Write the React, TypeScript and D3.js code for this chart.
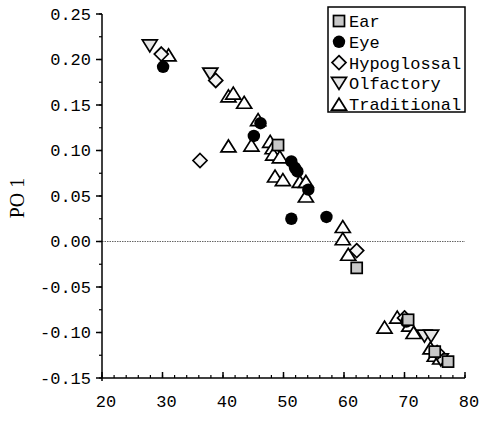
import React from 'react';
import * as d3 from 'd3';

const W = 480;
const H = 421;

const categories = ['Ear', 'Eye', 'Hypoglossal', 'Olfactory', 'Traditional'];

const earPoints: [number, number][] = [
  [49.1, 0.106], [62.1, -0.029], [70.6, -0.086], [75.0, -0.121], [77.2, -0.132],
];
const eyePoints: [number, number][] = [
  [30.1, 0.192], [46.2, 0.130], [45.1, 0.116], [51.3, 0.088], [51.9, 0.081],
  [52.3, 0.077], [54.1, 0.057], [51.3, 0.025], [57.1, 0.027], [70.3, -0.088],
];
const hypoglossalPoints: [number, number][] = [
  [29.8, 0.206], [38.8, 0.177], [36.2, 0.089], [62.1, -0.010], [70.0, -0.084], [75.4, -0.122],
];
const olfactoryPoints: [number, number][] = [
  [27.9, 0.215], [37.9, 0.184], [73.3, -0.104], [74.4, -0.104], [76.0, -0.130],
];
const traditionalPoints: [number, number][] = [
  [31.0, 0.205], [40.9, 0.160], [41.7, 0.163], [43.5, 0.153], [45.8, 0.134],
  [40.9, 0.105], [44.7, 0.106], [47.8, 0.110], [48.2, 0.103], [48.3, 0.096],
  [49.4, 0.093], [48.6, 0.072], [49.9, 0.068], [52.7, 0.066], [53.7, 0.066],
  [53.7, 0.050], [59.8, 0.0165], [59.8, 0.003], [60.7, -0.014], [66.7, -0.094],
  [68.8, -0.083], [70.8, -0.092], [71.5, -0.100], [74.3, -0.117], [75.0, -0.125],
  [75.9, -0.128],
];

const xTicks = [20, 30, 40, 50, 60, 70, 80];
const xMinorTicks = d3.range(20, 80.001, 2);
const yTicks = [-0.15, -0.10, -0.05, 0.00, 0.05, 0.10, 0.15, 0.20, 0.25];
const yMinorTicks = d3.range(-0.15, 0.2501, 0.025);

const yTitle = 'PO 1';

const x = d3.scaleLinear().domain([20, 80]).range([102, 465]);
const y = d3.scaleLinear().domain([-0.15, 0.25]).range([378, 14]);

const mono = '"Liberation Mono", "DejaVu Sans Mono", monospace';
const serif = '"Liberation Serif", "DejaVu Serif", serif';

type Kind = 'square' | 'circle' | 'diamond' | 'down' | 'up';

function Marker({ kind, cx, cy }: { kind: Kind; cx: number; cy: number }) {
  const sw = 1.7;
  if (kind === 'circle') return <circle cx={cx} cy={cy} r={6.2} fill="#000" />;
  if (kind === 'square')
    return <rect x={cx - 5.5} y={cy - 5.5} width={11} height={11} fill="#c8c8c8" stroke="#000" strokeWidth={sw} />;
  if (kind === 'diamond')
    return (
      <path d={`M${cx},${cy - 7}L${cx + 7},${cy}L${cx},${cy + 7}L${cx - 7},${cy}Z`} fill="#f4f4f4" stroke="#000" strokeWidth={sw} />
    );
  if (kind === 'down')
    return (
      <path d={`M${cx - 7.5},${cy - 6}L${cx + 7.5},${cy - 6}L${cx},${cy + 6}Z`} fill="#e6e6e6" stroke="#000" strokeWidth={sw} strokeLinejoin="miter" />
    );
  return (
    <path d={`M${cx - 7.5},${cy + 6}L${cx + 7.5},${cy + 6}L${cx},${cy - 6}Z`} fill="#fff" stroke="#000" strokeWidth={sw} strokeLinejoin="miter" />
  );
}

const seriesList: { name: string; kind: Kind; data: [number, number][] }[] = [
  { name: categories[4], kind: 'up', data: traditionalPoints },
  { name: categories[3], kind: 'down', data: olfactoryPoints },
  { name: categories[2], kind: 'diamond', data: hypoglossalPoints },
  { name: categories[1], kind: 'circle', data: eyePoints },
  { name: categories[0], kind: 'square', data: earPoints },
];
const legendKinds: Kind[] = ['square', 'circle', 'diamond', 'down', 'up'];

export default function App() {
  const [x0, x1] = x.range();
  const [yb, yt] = y.range();
  const legX = 328, legY = 7, legW = 137, legH = 105, rowH = 20.8;
  return (
    <svg width={W} height={H} style={{ position: 'absolute', left: 0, top: 0, background: '#fff' }}>
      <rect width={W} height={H} fill="#fff" />
      {/* zero line */}
      <line x1={x0} x2={x1} y1={y(0)} y2={y(0)} stroke="#666" strokeWidth={1} strokeDasharray="1.5,1" />
      {/* y axis */}
      <line x1={x0} x2={x0} y1={yt} y2={yb + 3} stroke="#000" strokeWidth={1.5} />
      {yMinorTicks.map((t, i) => (
        <line key={'ym' + i} x1={x0 - 3} x2={x0} y1={y(t)} y2={y(t)} stroke="#000" strokeWidth={1.2} />
      ))}
      {yTicks.map((t) => (
        <g key={'y' + t}>
          <line x1={x0 - 6} x2={x0} y1={y(t)} y2={y(t)} stroke="#000" strokeWidth={1.5} />
          <text x={x0 - 11} y={y(t)} dy="0.35em" textAnchor="end" fontFamily={mono} fontSize={17} fill="#000">
            {t.toFixed(2)}
          </text>
        </g>
      ))}
      {/* x axis */}
      <line x1={x0} x2={x1} y1={yb} y2={yb} stroke="#000" strokeWidth={1.5} />
      {xMinorTicks.map((t, i) => (
        <line key={'xm' + i} x1={x(t)} x2={x(t)} y1={yb} y2={yb - 3} stroke="#000" strokeWidth={1.2} />
      ))}
      {xTicks.map((t) => (
        <g key={'x' + t}>
          <line x1={x(t)} x2={x(t)} y1={yb} y2={yb - 6} stroke="#000" strokeWidth={1.5} />
          <text x={x(t) + 4} y={yb + 29} textAnchor="middle" fontFamily={mono} fontSize={17} fill="#000">
            {t}
          </text>
        </g>
      ))}
      <text
        transform={`translate(24,${(yt + yb) / 2 + 2}) rotate(-90)`}
        textAnchor="middle"
        fontFamily={serif}
        fontSize={20}
        fill="#000"
      >
        {yTitle}
      </text>
      {/* points */}
      {seriesList.map((s) => (
        <g key={s.name}>
          {s.data.map((d, i) => (
            <Marker key={i} kind={s.kind} cx={x(d[0])} cy={y(d[1])} />
          ))}
        </g>
      ))}
      {/* legend */}
      <rect x={legX} y={legY} width={legW} height={legH} fill="#fff" stroke="#000" strokeWidth={1.5} />
      {categories.map((c, i) => (
        <g key={c}>
          <Marker kind={legendKinds[i]} cx={legX + 11} cy={legY + 14 + i * rowH} />
          <text x={legX + 21} y={legY + 14 + i * rowH} dy="0.35em" fontFamily={mono} fontSize={17} fill="#000">
            {c}
          </text>
        </g>
      ))}
    </svg>
  );
}
